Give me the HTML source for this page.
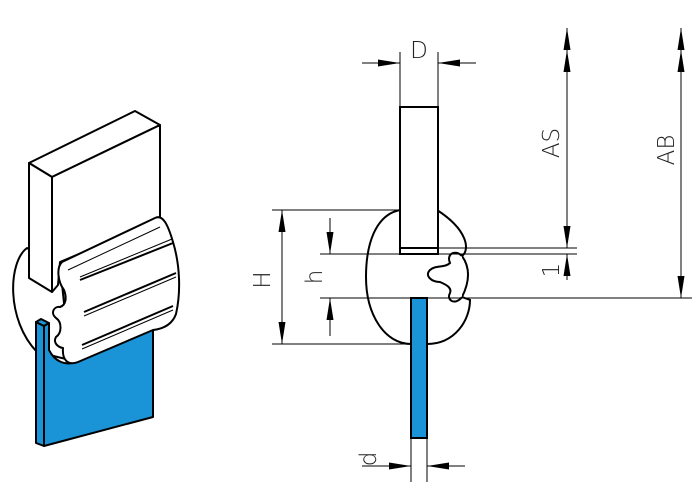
<!DOCTYPE html>
<html><head><style>
html,body{margin:0;padding:0;background:#fff;}
svg{display:block;}
text{font-family:"DejaVu Sans","Liberation Sans",sans-serif;font-weight:200;fill:#222;}
</style></head><body>
<svg width="700" height="498" viewBox="0 0 700 498" xmlns="http://www.w3.org/2000/svg">
<defs>
<marker id="a" viewBox="0 0 22 7" refX="22" refY="3.5" markerWidth="22" markerHeight="7" markerUnits="userSpaceOnUse" orient="auto"><path d="M0,0 L22,3.5 L0,7 Z" fill="#000"/></marker>
</defs>
<g fill="#fff" stroke="#000" stroke-width="2" stroke-linejoin="round">
<path d="M27,248 C8,262 6,320 37,352 L70,360 L60,265 Z"/>
<path d="M29,163 L135,111 L160,125 L52,177 Z"/>
<path d="M29,163 L52,177 L52,292 L29,278 Z"/>
<path d="M52,177 L160,125 L160,220 L60,262 L58,285 L52,292 Z"/>
<path d="M36,322 L44,326 L44,446 L36,443 Z" fill="#1a94d6"/>
<path d="M36,322 L41,319 L49,323 L44,326 Z" fill="#1a94d6"/>
<path d="M44,326 L49,323 L49,350 C55,362 66,366 76,362 L153,328 L153,417 L44,446 Z" fill="#1a94d6"/>
<path d="M62,262 L155,218 C163,214 168,225 173,242 C180,265 181,292 176,314 C172,325 162,329 153,330 L78,362 C68,366 62,360 63,348 C57,347 53,342 56,337 C62,333 62,322 56,318 C50,313 54,306 60,307 C66,305 67,298 64,290 C58,282 56,268 62,262 Z"/>
</g>
<g fill="none" stroke="#000" stroke-width="1">
<path d="M68,270 L160,227"/>
<path d="M80,277 L172,239"/><path d="M80,280 L173,243" stroke-width="2"/>
<path d="M84,312 L176,273" stroke-width="2"/><path d="M84,316 L176,277"/>
<path d="M82,345 L173,306" stroke-width="2"/><path d="M82,349 L173,310"/>
</g>
<g fill="#fff" stroke="#000" stroke-width="2">
<path d="M400,210 C375,215 366,245 366,277 C366,315 385,344 411,344 L427,344 C455,344 470,320 470,300 L462,297 C468,285 472,270 462,256 C470,250 468,230 437,210 Z"/>
<path d="M462,256 C455,249 446,254 450,263 C445,268 435,265 430,270 C424,276 432,282 440,282 C447,285 452,288 450,293 C446,300 455,306 462,297" />
<rect x="400" y="107" width="38" height="147"/>
<rect x="400" y="248" width="38" height="6"/>
<rect x="411" y="298" width="16" height="140" fill="#1a94d6"/>
</g>
<g stroke="#000" stroke-width="1" fill="none">
<line x1="400" y1="52" x2="400" y2="107"/><line x1="438" y1="52" x2="438" y2="107"/>
<line x1="362" y1="63" x2="400" y2="63" marker-end="url(#a)"/>
<line x1="476" y1="63" x2="438" y2="63" marker-end="url(#a)"/>
<line x1="272" y1="210" x2="400" y2="210"/><line x1="272" y1="344" x2="411" y2="344"/>
<line x1="282" y1="277" x2="282" y2="210" marker-end="url(#a)"/>
<line x1="282" y1="277" x2="282" y2="344" marker-end="url(#a)"/>
<line x1="320" y1="254" x2="400" y2="254"/><line x1="438" y1="254" x2="577" y2="254"/>
<line x1="438" y1="248" x2="577" y2="248"/>
<line x1="320" y1="298" x2="692" y2="298"/>
<line x1="330" y1="218" x2="330" y2="254" marker-end="url(#a)"/>
<line x1="330" y1="336" x2="330" y2="298" marker-end="url(#a)"/>
<line x1="567" y1="70" x2="567" y2="28" marker-end="url(#a)"/>
<line x1="567" y1="90" x2="567" y2="50" marker-end="url(#a)"/>
<line x1="567" y1="70" x2="567" y2="248" marker-end="url(#a)"/>
<line x1="567" y1="280" x2="567" y2="254" marker-end="url(#a)"/>
<line x1="681" y1="70" x2="681" y2="28" marker-end="url(#a)"/>
<line x1="681" y1="90" x2="681" y2="50" marker-end="url(#a)"/>
<line x1="681" y1="70" x2="681" y2="298" marker-end="url(#a)"/>
<line x1="411" y1="438" x2="411" y2="482"/><line x1="427" y1="438" x2="427" y2="482"/>
<line x1="362" y1="466" x2="411" y2="466" marker-end="url(#a)"/>
<line x1="465" y1="466" x2="427" y2="466" marker-end="url(#a)"/>
</g>
<g font-size="23">
<text x="419" y="58" text-anchor="middle">D</text>
<text transform="translate(270,280) rotate(-90)" text-anchor="middle">H</text>
<text transform="translate(322,277) rotate(-90)" text-anchor="middle">h</text>
<text transform="translate(559,143) rotate(-90)" text-anchor="middle">AS</text>
<text transform="translate(674,150) rotate(-90)" text-anchor="middle">AB</text>
<text transform="translate(559,270) rotate(-90)" text-anchor="middle">1</text>
<text transform="translate(376,459) rotate(-90)" text-anchor="middle">d</text>
</g>
</svg>
</body></html>
